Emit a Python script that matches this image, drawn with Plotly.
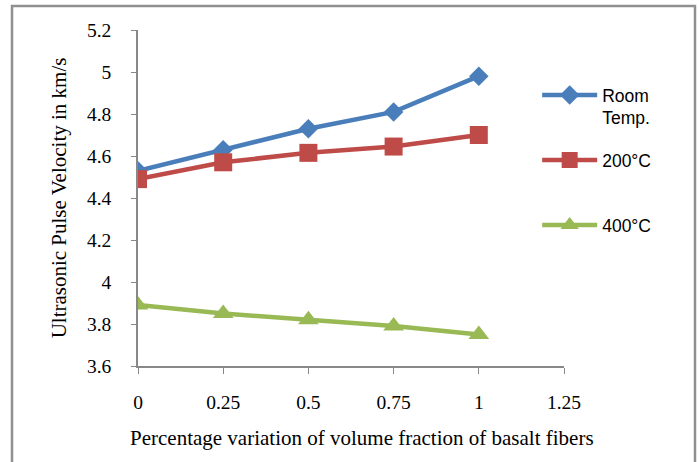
import plotly.graph_objects as go

x_vals = [0, 0.25, 0.5, 0.75, 1]
room_temp = [4.53, 4.63, 4.73, 4.81, 4.98]
temp_200 = [4.49, 4.57, 4.615, 4.645, 4.70]
temp_400 = [3.89, 3.85, 3.82, 3.79, 3.75]
series_names = ["Room<br>Temp.", "200°C", "400°C"]
x_ticks = [0, 0.25, 0.5, 0.75, 1, 1.25]
y_ticks = [3.6, 3.8, 4.0, 4.2, 4.4, 4.6, 4.8, 5.0, 5.2]
y_tick_text = ["3.6", "3.8", "4", "4.2", "4.4", "4.6", "4.8", "5", "5.2"]
x_tick_text = ["0", "0.25", "0.5", "0.75", "1", "1.25"]
x_title = "Percentage variation of volume fraction of basalt fibers"
y_title = "Ultrasonic Pulse Velocity in km/s"

fig = go.Figure()
fig.add_trace(go.Scatter(x=x_vals, y=room_temp, name=series_names[0], mode="lines+markers",
                         line=dict(color="#4a7ebb", width=4.5),
                         marker=dict(symbol="diamond", size=15, color="#4a7ebb"),
                         legend="legend", showlegend=True))
fig.add_trace(go.Scatter(x=x_vals, y=temp_200, name=series_names[1], mode="lines+markers",
                         line=dict(color="#be4b48", width=4.5),
                         marker=dict(symbol="square", size=18, color="#be4b48"),
                         legend="legend2", showlegend=True))
fig.add_trace(go.Scatter(x=x_vals, y=temp_400, name=series_names[2], mode="lines+markers",
                         line=dict(color="#98b954", width=4.5),
                         marker=dict(symbol="triangle-up", size=18, color="#98b954"),
                         legend="legend3", showlegend=True))

axis_color = "#888888"
leg_font = dict(family="Liberation Sans", size=17.5, color="black")
leg_common = dict(x=0.937, xanchor="left", yanchor="top", valign="top", visible=True,
                  font=leg_font, itemwidth=55, bgcolor="rgba(0,0,0,0)")
fig.update_layout(
    width=699, height=462,
    showlegend=True,
    margin=dict(l=138, r=135, t=30, b=96),
    paper_bgcolor="white", plot_bgcolor="white",
    font=dict(family="Liberation Serif", size=19, color="black"),
    xaxis=dict(range=[0, 1.25], tickvals=x_ticks, ticktext=x_tick_text,
               showgrid=False, zeroline=False, showline=True, linecolor=axis_color, linewidth=1.5,
               ticks="outside", ticklen=6, tickcolor=axis_color, ticklabelstandoff=12,
               tickfont=dict(family="Liberation Serif", size=19.5)),
    yaxis=dict(range=[3.6, 5.2], tickvals=y_ticks, ticktext=y_tick_text,
               showgrid=False, zeroline=False, showline=True, linecolor=axis_color, linewidth=1.5,
               ticks="outside", ticklen=5, tickcolor=axis_color, ticklabelstandoff=16,
               tickfont=dict(family="Liberation Serif", size=19.5),
               title=dict(text=y_title,
                          font=dict(family="Liberation Serif", size=21), standoff=15)),
    legend=dict(y=0.86, **leg_common),
    legend2=dict(y=0.6665, **leg_common),
    legend3=dict(y=0.473, **leg_common),
    annotations=[dict(text=x_title, xref="paper", yref="paper",
                      x=(362 - 138) / 426, y=(366 - 438) / 336,
                      xanchor="center", yanchor="middle", showarrow=False,
                      font=dict(family="Liberation Serif", size=21, color="black"))],
    shapes=[dict(type="rect", xref="paper", yref="paper",
                 x0=(12 - 138) / 426, x1=(695 - 138) / 426,
                 y0=(366 - 480) / 336, y1=(366 - 6) / 336,
                 line=dict(color="#909090", width=2.5), layer="below")],
)

fig.write_html("out.html")
